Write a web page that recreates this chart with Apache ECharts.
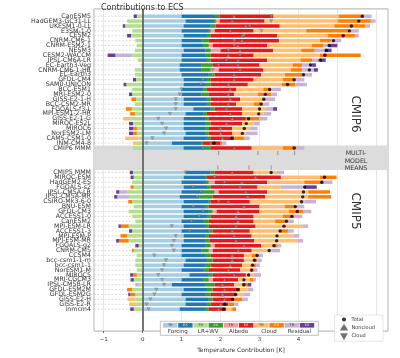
<!DOCTYPE html>
<html>
<head>
<meta charset="utf-8">
<script src="https://cdn.jsdelivr.net/npm/echarts@6/dist/echarts.min.js"></script>
<style>
  html, body { margin: 0; padding: 0; background: #fff; }
  #main { width: 400px; height: 358px; }
</style>
</head>
<body>
<div id="main"></div>
<script>
// model names, top to bottom
const cmip6Models = ['CanESM5', 'HadGEM3-GC31-LL', 'UKESM1-0-LL', 'E3SM-1-0', 'CESM2', 'CNRM-CM6-1',
  'CNRM-ESM2-1', 'NESM3', 'CESM2-WACCM', 'IPSL-CM6A-LR', 'EC-Earth3-Veg', 'CNRM-CM6-1-HR', 'EC-Earth3',
  'GFDL-CM4', 'SAM0-UNICON', 'BCC-ESM1', 'MRI-ESM2-0', 'GISS-E2-1-H', 'BCC-CSM2-MR', 'FGOALS-f3-L',
  'MPI-ESM1-2-HR', 'GISS-E2-1-G', 'MIROC-ES2L', 'MIROC6', 'NorESM2-LM', 'CAMS-CSM1-0', 'INM-CM4-8', 'CMIP6 MMM']
const cmip5Models = ['CMIP5 MMM', 'MIROC-ESM', 'HadGEM2-ES', 'FGOALS-s2', 'IPSL-CM5A-LR', 'IPSL-CM5A-MR',
  'CSIRO-Mk3-6-0', 'BNU-ESM', 'GFDL-CM3', 'ACCESS1-0', 'CanESM2', 'MPI-ESM-LR', 'ACCESS1-3', 'MPI-ESM-P',
  'MPI-ESM-MR', 'FGOALS-g2', 'CNRM-CM5', 'CCSM4', 'bcc-csm1-1-m', 'bcc-csm1-1', 'NorESM1-M', 'MIROC5',
  'MRI-CGCM3', 'IPSL-CM5B-LR', 'GFDL-ESM2M', 'GFDL-ESM2G', 'GISS-E2-H', 'GISS-E2-R', 'inmcm4']

// contributions [K]; first 28 = CMIP6, next 29 = CMIP5
const forcingTR = [1.0, 1.1, 1.05, 1.0, 1.05, 1.0, 1.0, 1.05, 1.0, 1.0, 0.95, 0.95, 1.0, 1.05, 1.05, 1.0, 1.0, 1.05, 1.05, 1.3, 1.1, 1.05, 1.05, 1.05, 1.1, 1.05, 0.75, 1.05,
  1.1, 1.05, 1.0, 1.05, 1.0, 0.95, 1.05, 1.0, 1.05, 1.05, 1.0, 1.05, 1.0, 1.05, 1.05, 1.0, 1.0, 1.0, 1.1, 1.05, 1.0, 1.2, 1.0, 0.75, 1.05, 1.0, 1.1, 1.1, 0.95]
const forcingEX = [0.88, 0.73, 0.7, 0.7, 0.6, 0.5, 0.55, 0.57, 0.6, 0.65, 0.55, 0.55, 0.7, 0.6, 0.55, 0.55, 0.5, 0.6, 0.6, 0.45, 0.45, 0.55, 0.55, 0.55, 0.5, 0.6, 0.75, 0.55,
  0.65, 0.55, 0.6, 0.6, 0.55, 0.5, 0.65, 0.6, 0.65, 0.6, 0.55, 0.55, 0.7, 0.55, 0.55, 0.6, 0.5, 0.6, 0.55, 0.55, 0.55, 0.5, 0.55, 0.85, 0.6, 0.6, 0.6, 0.55, 0.65]
const lrwvTR = [-0.15, -0.4, -0.45, -0.27, -0.3, -0.19, -0.15, -0.2, -0.27, -0.12, -0.05, -0.2, -0.2, -0.17, -0.42, -0.28, -0.27, -0.17, -0.2, -0.28, -0.2, -0.3, -0.25, -0.15, -0.15, -0.1, -0.15, -0.25,
  -0.25, -0.23, -0.27, -0.23, -0.4, -0.35, -0.27, -0.23, -0.36, -0.27, -0.19, -0.36, -0.27, -0.4, -0.36, -0.1, -0.23, -0.15, -0.19, -0.19, -0.15, -0.15, -0.23, -0.1, -0.27, -0.19, -0.19, -0.15, -0.23]
const lrwvEX = [0.1, 0.05, 0.12, 0.05, 0.1, 0.2, 0.15, 0.13, 0.15, 0.1, 0.3, 0.25, 0.15, 0.1, 0.15, 0.1, 0.2, 0.1, 0.1, 0.1, 0.1, 0.1, 0.15, 0.1, 0.1, 0.1, 0.05, 0.15,
  0.1, 0.05, 0.1, 0.1, 0.3, 0.35, 0.05, 0.1, 0.1, 0.1, 0.15, 0.1, 0.1, 0.1, 0.12, 0.15, 0.2, 0.15, 0.15, 0.15, 0.15, 0.1, 0.15, 0.25, 0.15, 0.15, 0.1, 0.1, 0.1]
const albedoTR = [0, 0.1, 0, 0.1, 0, 0, 0.1, 0.25, 0, 0, 0, 0.2, 0, 0, 0, 0, 0, 0, 0, 0, 0, 0, 0, 0, 0, 0, 0, 0,
  0, 0, 0.15, 0, 0.1, 0, 0, 0, 0.1, 0, 0, 0, 0, 0, 0, 0.1, 0.1, 0, 0, 0, 0, 0, 0.1, 0, 0, 0, 0, 0, 0]
const albedoEX = [1.38, 1.15, 1.65, 1.0, 1.7, 1.8, 1.4, 1.35, 1.1, 1.45, 1.2, 1.15, 1.2, 1.1, 0.95, 0.75, 0.65, 0.75, 0.65, 0.7, 0.9, 0.95, 0.8, 0.6, 0.6, 0.6, 0.45, 1.05,
  1.0, 1.9, 1.35, 1.2, 1.25, 1.35, 1.0, 1.3, 1.1, 1.1, 1.15, 1.2, 0.95, 1.1, 1.15, 1.2, 1.0, 0.85, 0.8, 0.8, 0.8, 0.85, 0.65, 0.5, 0.7, 0.65, 0.55, 0.45, 0.45]
const cloudTR = [1.67, 1.88, 1.4, 1.35, 1.3, 1.05, 1.15, 0.72, 1.7, 0.85, 0.85, 0.7, 0.6, 0.75, 0.87, 0.7, 0.6, 0.6, 0.45, 0.6, 0.55, -0.2, 0.3, 0.45, 0.35, -0.35, -0.1, 0.8,
  0.6, 1.0, 0.95, 0.6, 1.05, 1.1, 1.4, 0.65, 0.75, 0.75, 0.55, 1.2, 0.8, 1.07, 1.1, 0.3, 0.5, 0.2, 0.25, 0.3, 0.25, 0.2, 0.3, 0.2, 0.2, 0.2, -0.2, -0.2, 0.15]
const cloudEX = [0.65, 0.85, 0.8, 1.1, 0.7, 0.3, 0.3, 0.35, 1.05, 0.3, 0.25, 0.3, 0.45, 0.3, 0.35, 0.2, 0.35, -0.12, 0.25, -0.15, -0.12, 0.35, 0, -0.1, -0.1, 0.25, 0.05, 0.35,
  0, 0.43, 0.5, -0.08, 0.56, 0.59, -0.1, 0.3, 0.38, 0.3, 0.25, -0.2, 0.18, -0.17, -0.25, 0.1, -0.05, 0.15, 0.1, 0.06, 0.1, -0.1, 0.1, 0.14, -0.13, -0.13, 0.2, 0.15, 0.1]
const residTR = [0.2, 0.12, 0.12, 0.25, 0.1, 0.25, 0.15, 0.25, -0.43, 0.2, 0.25, 0.3, 0.25, 0.25, 0.3, 0.25, 0.15, 0.3, 0.15, 0.2, 0.2, 0.2, 0.15, 0.2, 0.3, 0.15, 0.1, 0.2,
  0.18, 0, 0.22, 0.6, -0.2, -0.3, 0.3, 0.2, 0.2, 0.2, 0.23, 0.15, 0.15, 0.15, 0.15, 0.11, 0.23, 0.14, 0.11, 0.1, 0.1, 0.19, 0.06, -0.09, 0.14, 0.16, 0.15, 0.11, 0]
const residEX = [-0.08, 0, -0.06, 0, -0.1, 0, 0.2, 0.18, -0.2, 0.15, 0.1, 0.1, 0, -0.08, -0.07, 0, -0.08, 0, 0, 0.1, 0, 0, -0.1, -0.1, -0.1, 0, 0, 0,
  -0.08, -0.08, 0, 0.32, -0.08, -0.08, 0, 0, 0, 0, 0, -0.06, -0.08, 0, -0.07, -0.09, 0, 0, 0, 0, 0, -0.07, -0.08, 0.1, 0, -0.05, 0, 0, -0.09]

// markers
const total = [5.64, 5.55, 5.36, 5.31, 5.15, 4.90, 4.79, 4.72, 4.68, 4.56, 4.31, 4.28, 4.13, 3.89, 3.72, 3.26, 3.15, 3.11, 3.04, 3.0, 2.98, 2.72, 2.66, 2.61, 2.56, 2.29, 1.83, 3.89,
  3.3, 4.67, 4.6, 4.16, 4.13, 4.11, 4.08, 3.92, 3.97, 3.83, 3.69, 3.63, 3.53, 3.45, 3.44, 3.37, 3.25, 2.94, 2.87, 2.82, 2.8, 2.72, 2.6, 2.6, 2.44, 2.39, 2.31, 2.11, 2.08]
const noncloud = [2.35, 2.3, 2.65, 2.25, 2.55, 2.55, 2.45, 2.5, 2.2, 2.45, 2.45, 2.5, 2.35, 2.35, 2.2, 2.25, 2.2, 2.25, 2.2, 2.15, 2.25, 2.3, 2.15, 2.0, 2.0, 2.05, 1.75, 2.35,
  2.3, 2.9, 2.55, 2.5, 2.65, 2.7, 2.2, 2.6, 2.45, 2.4, 2.45, 2.4, 2.3, 2.35, 2.4, 2.6, 2.45, 2.3, 2.3, 2.25, 2.2, 2.35, 2.1, 2.05, 2.1, 2.05, 2.1, 2.0, 1.95]
const cloud = [3.3, 3.3, 2.75, 3.05, 2.6, 2.35, 2.35, 2.2, 2.5, 2.15, 1.95, 1.8, 1.8, 1.55, 1.5, 1.0, 0.95, 0.85, 0.85, 0.85, 0.7, 0.4, 0.5, 0.6, 0.55, 0.25, 0.1, 1.55,
  1.1, 1.85, 2.1, 1.3, 1.5, 1.4, 1.95, 1.3, 1.55, 1.45, 1.25, 0.75, 1.2, 0.85, 0.8, 0.75, 0.8, 0.3, 0.6, 0.55, 0.5, 0.4, 0.5, 0.55, 0.35, 0.3, 0.2, 0.1, 0.15]
// small marks inside the multi-model-means band
const mmm6Marks = [1.95, 2.96, 3.47, 3.9]
const mmm5Marks = [1.93, 2.73, 3.3]

const colors = ['#a6cee3', '#1f78b4', '#b2df8a', '#33a02c', '#fb9a99', '#e31a1c', '#fdbf6f', '#ff7f00', '#cab2d6', '#6a3d9a']
const groups = ['Forcing', 'LR+WV', 'Albedo', 'Cloud', 'Residual']
const parts = ['TR', 'EX']
const components = [forcingTR, forcingEX, lrwvTR, lrwvEX, albedoTR, albedoEX, cloudTR, cloudEX, residTR, residEX]

// axis rows: one blank on top, a gap of 4 between ensembles, 4 blanks at the bottom
const gap = ['', '', '', '']
const categories = [''].concat(cmip6Models, gap, cmip5Models, gap)
const rowIndex = i => (i < 28 ? 1 + i : 33 + (i - 28))
const pad = arr => ['-'].concat(arr.slice(0, 28), ['-', '-', '-', '-'], arr.slice(28), ['-', '-', '-', '-'])
const font = 'DejaVu Sans'
const xMin = -1.25
const xMax = 6.3

var myChart = echarts.init(document.getElementById('main'))

const barSeries = components.map((arr, k) => ({
  name: groups[Math.floor(k / 2)] + ' ' + parts[k % 2],
  type: 'bar',
  stack: 'ecs',
  barWidth: 3.5,
  data: pad(arr),
  itemStyle: { color: colors[k] },
  silent: true,
  z: 2
}))

const legendItems = []
legendItems.push({
  type: 'rect', left: 160, top: 321, z: 100,
  shape: { width: 158, height: 14 },
  style: { fill: '#fff', stroke: '#999', lineWidth: 0.6 }
})
colors.forEach((c, k) => {
  const x = 163 + k * 15.2
  legendItems.push({ type: 'rect', x: x, y: 323, z: 101, shape: { width: 14.4, height: 4.6 }, style: { fill: c } })
  legendItems.push({
    type: 'text', x: x + 7.2, y: 325.4, z: 102,
    style: { text: parts[k % 2], fontSize: 3.5, fontFamily: font, fill: k % 2 ? '#eee' : '#333', align: 'center', verticalAlign: 'middle', textAlign: 'center', textVerticalAlign: 'middle' }
  })
})
groups.forEach((g, i) => {
  legendItems.push({
    type: 'text', x: 163 + i * 30.4 + 14.8, y: 331.3, z: 102,
    style: { text: g, fontSize: 5.5, fontFamily: font, fill: '#333', align: 'center', verticalAlign: 'middle', textAlign: 'center', textVerticalAlign: 'middle' }
  })
})

const option = {
  animation: false,
  backgroundColor: '#fff',
  title: {
    text: 'Contributions to ECS',
    left: 96,
    top: -1,
    textStyle: { fontSize: 8, fontWeight: 'normal', color: '#333', fontFamily: font }
  },
  legend: {
    data: ['Total', 'Noncloud', 'Cloud'],
    orient: 'vertical',
    right: 17,
    top: 315,
    itemWidth: 5,
    itemHeight: 4,
    itemGap: 2.6,
    padding: [2, 8, 2, 6],
    borderColor: '#ccc',
    borderWidth: 0.5,
    backgroundColor: '#fff',
    textStyle: { fontSize: 5, color: '#333', fontFamily: font }
  },
  grid: { left: 94, right: 12, top: 8.9, height: 327.4, show: true, borderColor: '#999', borderWidth: 0.8 },
  xAxis: {
    type: 'value',
    min: xMin,
    max: xMax,
    splitNumber: 7,
    name: 'Temperature Contribution [K]',
    nameLocation: 'middle',
    nameGap: 11,
    nameTextStyle: { fontSize: 6, color: '#333', fontFamily: font },
    axisLine: { show: false },
    axisTick: { show: true, length: 2, lineStyle: { color: '#666' } },
    axisLabel: {
      fontSize: 5.5, color: '#333', fontFamily: font, margin: 5,
      showMinLabel: false, showMaxLabel: false,
      formatter: v => (Number.isInteger(v) ? (v < 0 ? '\u2212' + Math.abs(v) : String(v)) : '')
    },
    splitLine: { show: true, lineStyle: { color: '#ddd', width: 0.7 } }
  },
  yAxis: {
    type: 'category',
    inverse: true,
    data: categories,
    axisLine: { show: false },
    axisTick: { show: false },
    axisLabel: { fontSize: 6.3, color: '#333', fontFamily: font, margin: 3, interval: 0 },
    splitLine: { show: false }
  },
  graphic: legendItems.concat([
    {
      type: 'text', x: 355, y: 114, rotation: -Math.PI / 2,
      style: { text: 'CMIP6', fontSize: 12, fontFamily: font, fill: '#333', align: 'center', verticalAlign: 'middle', textAlign: 'center', textVerticalAlign: 'middle' }
    },
    {
      type: 'text', x: 355, y: 211, rotation: -Math.PI / 2,
      style: { text: 'CMIP5', fontSize: 12, fontFamily: font, fill: '#333', align: 'center', verticalAlign: 'middle', textAlign: 'center', textVerticalAlign: 'middle' }
    },
    {
      type: 'text', x: 356, y: 161, z: 10,
      style: { text: 'MULTI-\nMODEL\nMEANS', fontSize: 6.3, lineHeight: 7.5, fontFamily: font, fill: '#333', align: 'center', verticalAlign: 'middle', textAlign: 'center', textVerticalAlign: 'middle' }
    }
  ]),
  series: [
    {
      // grey band behind the two multi-model-mean rows
      name: 'band',
      type: 'custom',
      z: 0,
      silent: true,
      data: [[28, 33]],
      renderItem: (params, api) => {
        const a = api.coord([xMin, api.value(0)])
        const b = api.coord([xMax, api.value(1)])
        return { type: 'rect', shape: { x: a[0], y: a[1] - 2.5, width: b[0] - a[0], height: b[1] - a[1] }, style: { fill: '#dcdcdc' } }
      }
    },
    {
      // dashed guides from the left edge to zero
      name: 'guides',
      type: 'custom',
      z: 1,
      silent: true,
      data: total.map((v, i) => [0, rowIndex(i)]),
      renderItem: (params, api) => {
        const a = api.coord([xMin, api.value(1)])
        const b = api.coord([0, api.value(1)])
        return { type: 'line', shape: { x1: a[0], y1: a[1], x2: b[0], y2: b[1] }, style: { stroke: '#bbb', lineWidth: 0.5, lineDash: [2, 1.5] } }
      }
    }
  ].concat(barSeries, [
    {
      name: 'zero',
      type: 'line',
      data: [],
      z: 3,
      markLine: {
        silent: true,
        symbol: 'none',
        label: { show: false },
        lineStyle: { color: '#555', width: 1.6, type: 'solid' },
        data: [{ xAxis: 0 }]
      }
    },
    {
      name: 'Noncloud',
      type: 'scatter',
      symbol: 'triangle',
      symbolSize: 3.4,
      itemStyle: { color: '#999', borderColor: '#555', borderWidth: 0.3 },
      z: 5,
      data: noncloud.map((v, i) => [v, rowIndex(i)])
    },
    {
      name: 'Cloud',
      type: 'scatter',
      symbol: 'path://M0,0L10,0L5,9Z',
      symbolSize: 3.4,
      itemStyle: { color: '#999', borderColor: '#555', borderWidth: 0.3 },
      z: 5,
      data: cloud.map((v, i) => [v, rowIndex(i)])
    },
    {
      name: 'Total',
      type: 'scatter',
      symbol: 'circle',
      symbolSize: 3.4,
      itemStyle: { color: '#000' },
      z: 6,
      data: total.map((v, i) => [v, rowIndex(i)])
    },
    {
      name: 'mmmMarks',
      type: 'scatter',
      symbol: 'rect',
      symbolSize: [1.2, 4],
      itemStyle: { color: '#888' },
      z: 5,
      silent: true,
      data: mmm6Marks.map(v => [v, 29]).concat(mmm5Marks.map(v => [v, 32]))
    }
  ])
}

myChart.setOption(option)
</script>
</body>
</html>
